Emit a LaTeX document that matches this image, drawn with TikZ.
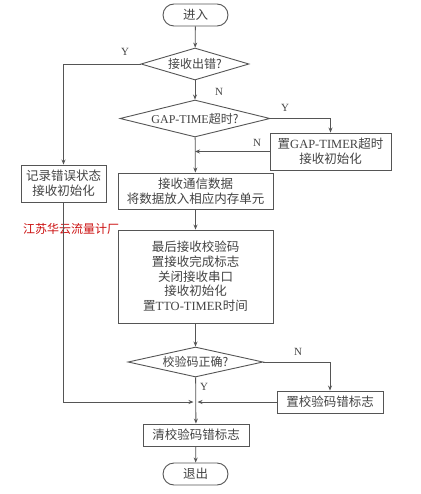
\documentclass[tikz,border=0pt]{standalone}
\usepackage{fontspec}
\setmainfont{Liberation Serif}
\newfontfamily\cjk{Noto Sans CJK SC}
\usetikzlibrary{shapes.geometric,arrows.meta}
\definecolor{linegray}{HTML}{555555}
\definecolor{textgray}{HTML}{444444}
\definecolor{wmred}{HTML}{CC1111}
\begin{document}
\begin{tikzpicture}[x=1pt,y=-1pt,
  every node/.style={text=textgray},
  boxnode/.style={draw=linegray,line width=0.9pt,inner sep=0pt,align=center,
    font=\cjk\fontsize{12.5}{14.7}\selectfont},
  term/.style={boxnode,rounded corners=11pt,minimum width=65pt,minimum height=22pt},
  dia/.style={draw=linegray,line width=0.9pt,shape=diamond,inner sep=0pt,
    font=\cjk\fontsize{12}{14}\selectfont},
  lbl/.style={font=\fontsize{11}{13}\selectfont,inner sep=0pt},
  arr/.style={draw=linegray,line width=0.8pt,-{Stealth[length=5pt,width=4pt]}}
]
\useasboundingbox (0,0) rectangle (420,494);
\fill[white] (0,0) rectangle (420,494);

\node[term] (start) at (195.5,15) {进入};
\node[dia,minimum width=108pt,minimum height=32pt,aspect=3.4] (d1) at (195,64) {接收出错?};
\node[dia,minimum width=150pt,minimum height=37pt,aspect=4] (d2) at (195,118.5) {\rmfamily GAP-TIME{\cjk 超时?}};
\node[boxnode,minimum width=121pt,minimum height=37pt] (gap) at (330.5,151.5) {置{\rmfamily GAP-TIMER}超时\\接收初始化};
\node[boxnode,minimum width=85pt,minimum height=37pt] (err) at (63.5,183.5) {记录错误状态\\接收初始化};
\node[boxnode,minimum width=155pt,minimum height=36pt] (recv) at (195.5,191) {接收通信数据\\将数据放入相应内存单元};
\node[boxnode,minimum width=155pt,minimum height=93pt] (last) at (195.5,276.5) {最后接收校验码\\置接收完成标志\\关闭接收串口\\接收初始化\\置{\rmfamily TTO-TIMER}时间};
\node[dia,minimum width=135pt,minimum height=30pt,aspect=4.5] (d3) at (195.5,362) {校验码正确?};
\node[boxnode,minimum width=106pt,minimum height=22pt] (seterr) at (330,402) {置校验码错标志};
\node[boxnode,minimum width=106pt,minimum height=22pt] (clr) at (196,435) {清校验码错标志};
\node[term] (exit) at (195.5,474) {退出};

\node[font=\cjk\fontsize{12}{14}\selectfont,text=wmred,inner sep=0pt] (wm) at (71,229) {江苏华云流量计厂};

\coordinate (j) at (195.5,402);

\draw[arr] (start) -- (d1);
\draw[arr] (d1.west) -| (err.north);
\node[lbl] (y1) at (125,52) {Y};
\draw[arr] (d1) -- (d2);
\node[lbl] (n1) at (219,92) {N};
\draw[arr] (d2.east) -| (gap.north);
\node[lbl] (y2) at (285,108) {Y};
\draw[arr] (gap.west) -- (gap.west -| d2.south);
\node[lbl] (n2) at (257,143) {N};
\draw[arr] (d2) -- (recv);
\draw[arr] (recv) -- (last);
\draw[arr] (last) -- (d3);
\draw[arr] (d3.east) -| (seterr.north);
\node[lbl] (n3) at (298,352) {N};
\draw[arr] (d3) -- (clr);
\node[lbl] (y3) at (204,387) {Y};
\draw[arr] (err.south) |- ([xshift=-2pt]j);
\draw[arr] (seterr.west) -- ([xshift=2pt]j);
\draw[arr] (clr) -- (exit);
\end{tikzpicture}
\end{document}
